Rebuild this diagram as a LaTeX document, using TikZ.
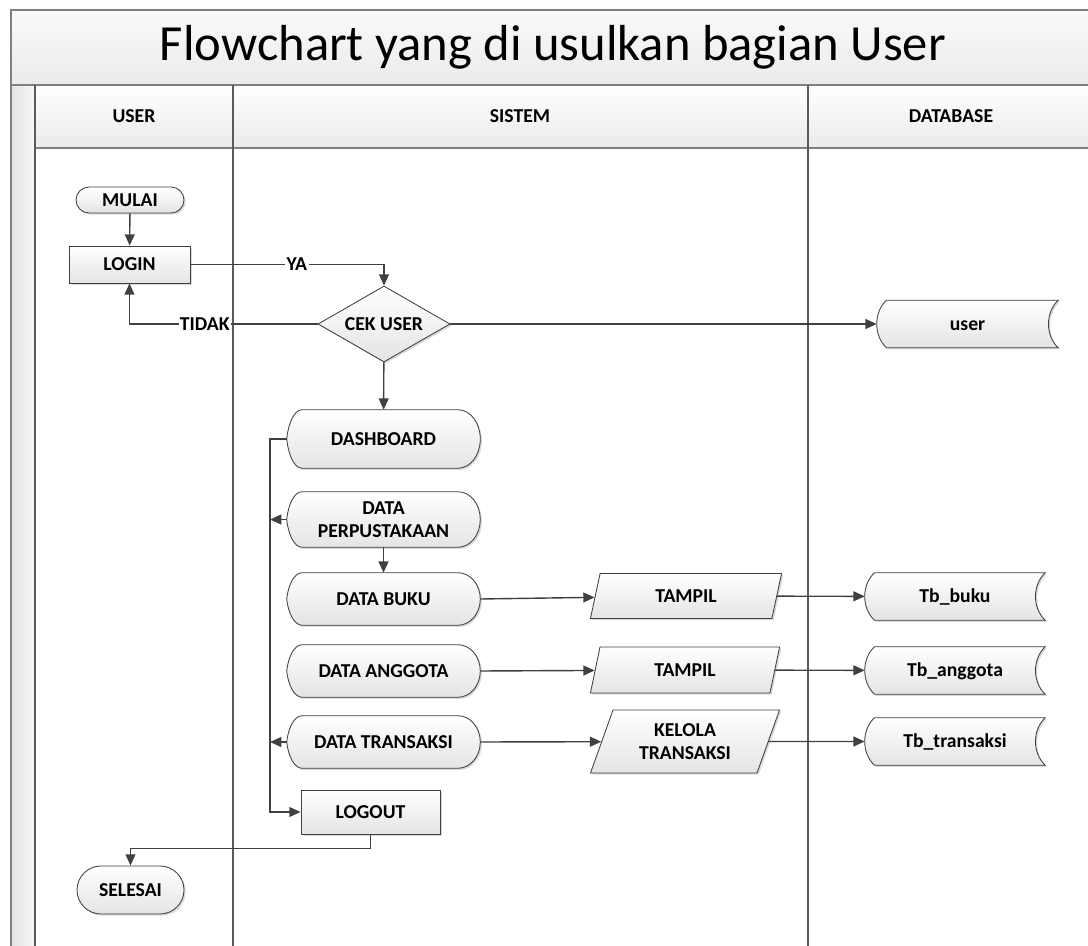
\documentclass[tikz,border=0pt]{standalone}
\usepackage{fontspec}
\setmainfont{Carlito}
\usetikzlibrary{shapes.geometric,shapes.misc,arrows.meta,calc,shadows}
\newcommand{\pxu}{0.025cm}
\definecolor{linec}{HTML}{404040}
\definecolor{framec}{HTML}{808080}
\definecolor{lanec}{HTML}{5A5A5A}
\definecolor{shadec}{HTML}{E4E4E4}
\pgfdeclarelayer{lanes}
\pgfdeclarelayer{shapes}
\pgfsetlayers{lanes,shapes,main}
\tikzset{
  txt/.style={font=\bfseries\fontsize{14}{16}\selectfont, align=center, text=black, inner sep=0pt},
  one/.style={text height=9.2pt, text depth=0pt},
  boxfill/.style={draw=linec, line width=0.6pt, top color=white, bottom color=shadec,
    drop shadow={shadow xshift=1.2pt, shadow yshift=-1.2pt, fill=black!25, opacity=0.6}},
  terminal/.style={txt, one, boxfill, rounded rectangle},
  process/.style={txt, one, boxfill, rectangle},
  decision/.style={txt, one, boxfill, diamond, aspect=1.7},
  io/.style={txt, boxfill, trapezium, trapezium left angle=75, trapezium right angle=105, trapezium stretches=true},
  plain/.style={txt, rectangle},
  flow/.style={draw=linec, line width=1pt, -{Triangle[length=8pt,width=7pt]}},
  lbl/.style={font=\bfseries\fontsize{14}{16}\selectfont, fill=white, inner sep=1pt, text height=9.2pt, text depth=0pt},
  hdr/.style={font=\bfseries\fontsize{14}{16}\selectfont, inner sep=0pt},
}
\begin{document}
\begin{tikzpicture}[x=0.025cm, y=-0.025cm]
\useasboundingbox (0,0) rectangle (1088,946);
% swimlane frame
\begin{pgfonlayer}{lanes}
  \fill[top color=black!2, bottom color=black!8] (11,10) rectangle (1088,85);
  \fill[top color=white, bottom color=black!8] (35,85) rectangle (1088,148);
  \fill[left color=black!11, right color=black!3] (11,85) rectangle (35,946);
  \draw[framec, line width=1pt] (11,946) -- (11,10) -- (1088,10);
  \draw[framec, line width=1pt] (11,85) -- (1088,85);
  \draw[framec, line width=1pt] (35,148) -- (1088,148);
  \draw[lanec, line width=1pt] (35,85) -- (35,946);
  \draw[lanec, line width=1pt] (233,85) -- (233,946);
  \draw[lanec, line width=1pt] (808,85) -- (808,946);
\end{pgfonlayer}
\node[font=\fontsize{36}{40}\selectfont, inner sep=0pt] (title) at (553,47) {Flowchart yang di usulkan bagian User};
\node[hdr] (huser) at (134,116) {USER};
\node[hdr] (hsis) at (520,116) {SISTEM};
\node[hdr] (hdb) at (951,116) {DATABASE};

% nodes
\node[terminal, minimum width=108*\pxu, minimum height=26*\pxu] (mulai) at (130,200) {MULAI};
\node[process, minimum width=121*\pxu, minimum height=37*\pxu] (login) at (129.5,264.5) {LOGIN};
\node[decision, minimum width=132*\pxu, minimum height=76*\pxu] (cek) at (384,324) {CEK USER};
\node[plain, one, minimum width=181*\pxu, minimum height=47*\pxu] (user) at (967.5,324) {user};
\node[plain, one, minimum width=193*\pxu, minimum height=58*\pxu] (dash) at (383.5,439) {DASHBOARD};
\node[plain, minimum width=193*\pxu, minimum height=55*\pxu] (perp) at (383.5,519.5) {DATA\\PERPUSTAKAAN};
\node[plain, one, minimum width=193*\pxu, minimum height=52*\pxu] (buku) at (383.5,599) {DATA BUKU};
\node[plain, one, minimum width=193*\pxu, minimum height=52*\pxu] (angg) at (383.5,671) {DATA ANGGOTA};
\node[plain, one, minimum width=193*\pxu, minimum height=52*\pxu] (trans) at (383.5,742) {DATA TRANSAKSI};
\node[process, minimum width=139*\pxu, minimum height=44*\pxu] (logout) at (370.5,812) {LOGOUT};
\node[terminal, minimum width=107*\pxu, minimum height=48*\pxu] (selesai) at (130.5,890) {SELESAI};
\node[io, one, minimum width=192*\pxu, minimum height=45*\pxu] (t1) at (686,596) {TAMPIL};
\node[io, one, minimum width=190*\pxu, minimum height=46*\pxu] (t2) at (685,670) {TAMPIL};
\node[io, minimum width=190*\pxu, minimum height=63*\pxu, trapezium left angle=68, trapezium right angle=112] (t3) at (685,741.5) {KELOLA\\TRANSAKSI};
\node[plain, one, minimum width=180*\pxu, minimum height=47*\pxu] (tb1) at (955,596.5) {Tb\_buku};
\node[plain, one, minimum width=180*\pxu, minimum height=47*\pxu] (tb2) at (955,670.5) {Tb\_anggota};
\node[plain, one, minimum width=180*\pxu, minimum height=47*\pxu] (tb3) at (955,741.5) {Tb\_transaksi};

% custom outlines
\begin{pgfonlayer}{shapes}
\foreach \s in {dash,perp,buku,angg,trans}{
  \path[boxfill] ($(\s.north west)+(11pt,0)$) -- ($(\s.north east)+(-16pt,0)$)
    .. controls ($(\s.north east)+(-7pt,0)$) and ($(\s.east)!0.552!(\s.north east)$) .. (\s.east)
    .. controls ($(\s.east)!0.552!(\s.south east)$) and ($(\s.south east)+(-7pt,0)$) .. ($(\s.south east)+(-16pt,0)$)
    -- ($(\s.south west)+(11pt,0)$)
    .. controls ($(\s.south west)+(5pt,0)$) and ($(\s.west)!0.5!(\s.south west)+(1pt,0)$) .. (\s.west)
    .. controls ($(\s.west)!0.5!(\s.north west)+(1pt,0)$) and ($(\s.north west)+(5pt,0)$) .. cycle;
}
\foreach \s in {user,tb1,tb2,tb3}{
  \path[boxfill] ($(\s.north west)+(7pt,0)$) -- (\s.north east)
    .. controls ($(\s.north east)!0.5!(\s.east)+(-9.3pt,0)$) and ($(\s.south east)!0.5!(\s.east)+(-9.3pt,0)$) .. (\s.south east)
    -- ($(\s.south west)+(7pt,0)$)
    .. controls ($(\s.south west)!0.5!(\s.west)+(-2.33pt,0)$) and ($(\s.north west)!0.5!(\s.west)+(-2.33pt,0)$) .. cycle;
}
\end{pgfonlayer}

% connectors
\coordinate (bus) at (270,439);
\draw[flow] (mulai) -- (login);
\draw[flow] (login.east) -| node[lbl, pos=0.275] {YA} (cek.north);
\draw[flow] (cek.west) -| node[lbl, pos=0.30] {TIDAK} (login.south);
\draw[flow] (cek.east) -- (user.west);
\draw[flow] (cek) -- (dash);
\draw[flow] (dash.west) -- (bus) |- (logout.west);
\draw[flow] (perp.west) -- (bus |- perp.west);
\draw[flow] (trans.west) -- (bus |- trans.west);
\draw[flow] (perp) -- (buku);
\draw[flow] (buku.east) -- (t1);
\draw[flow] (angg.east) -- (t2);
\draw[flow] (trans.east) -- (t3);
\draw[flow] (t1) -- (tb1);
\draw[flow] (t2) -- (tb2);
\draw[flow] (t3) -- (tb3);
\draw[flow] (logout.south) -- ++(0,14) -| (selesai.north);
\end{tikzpicture}
\end{document}
